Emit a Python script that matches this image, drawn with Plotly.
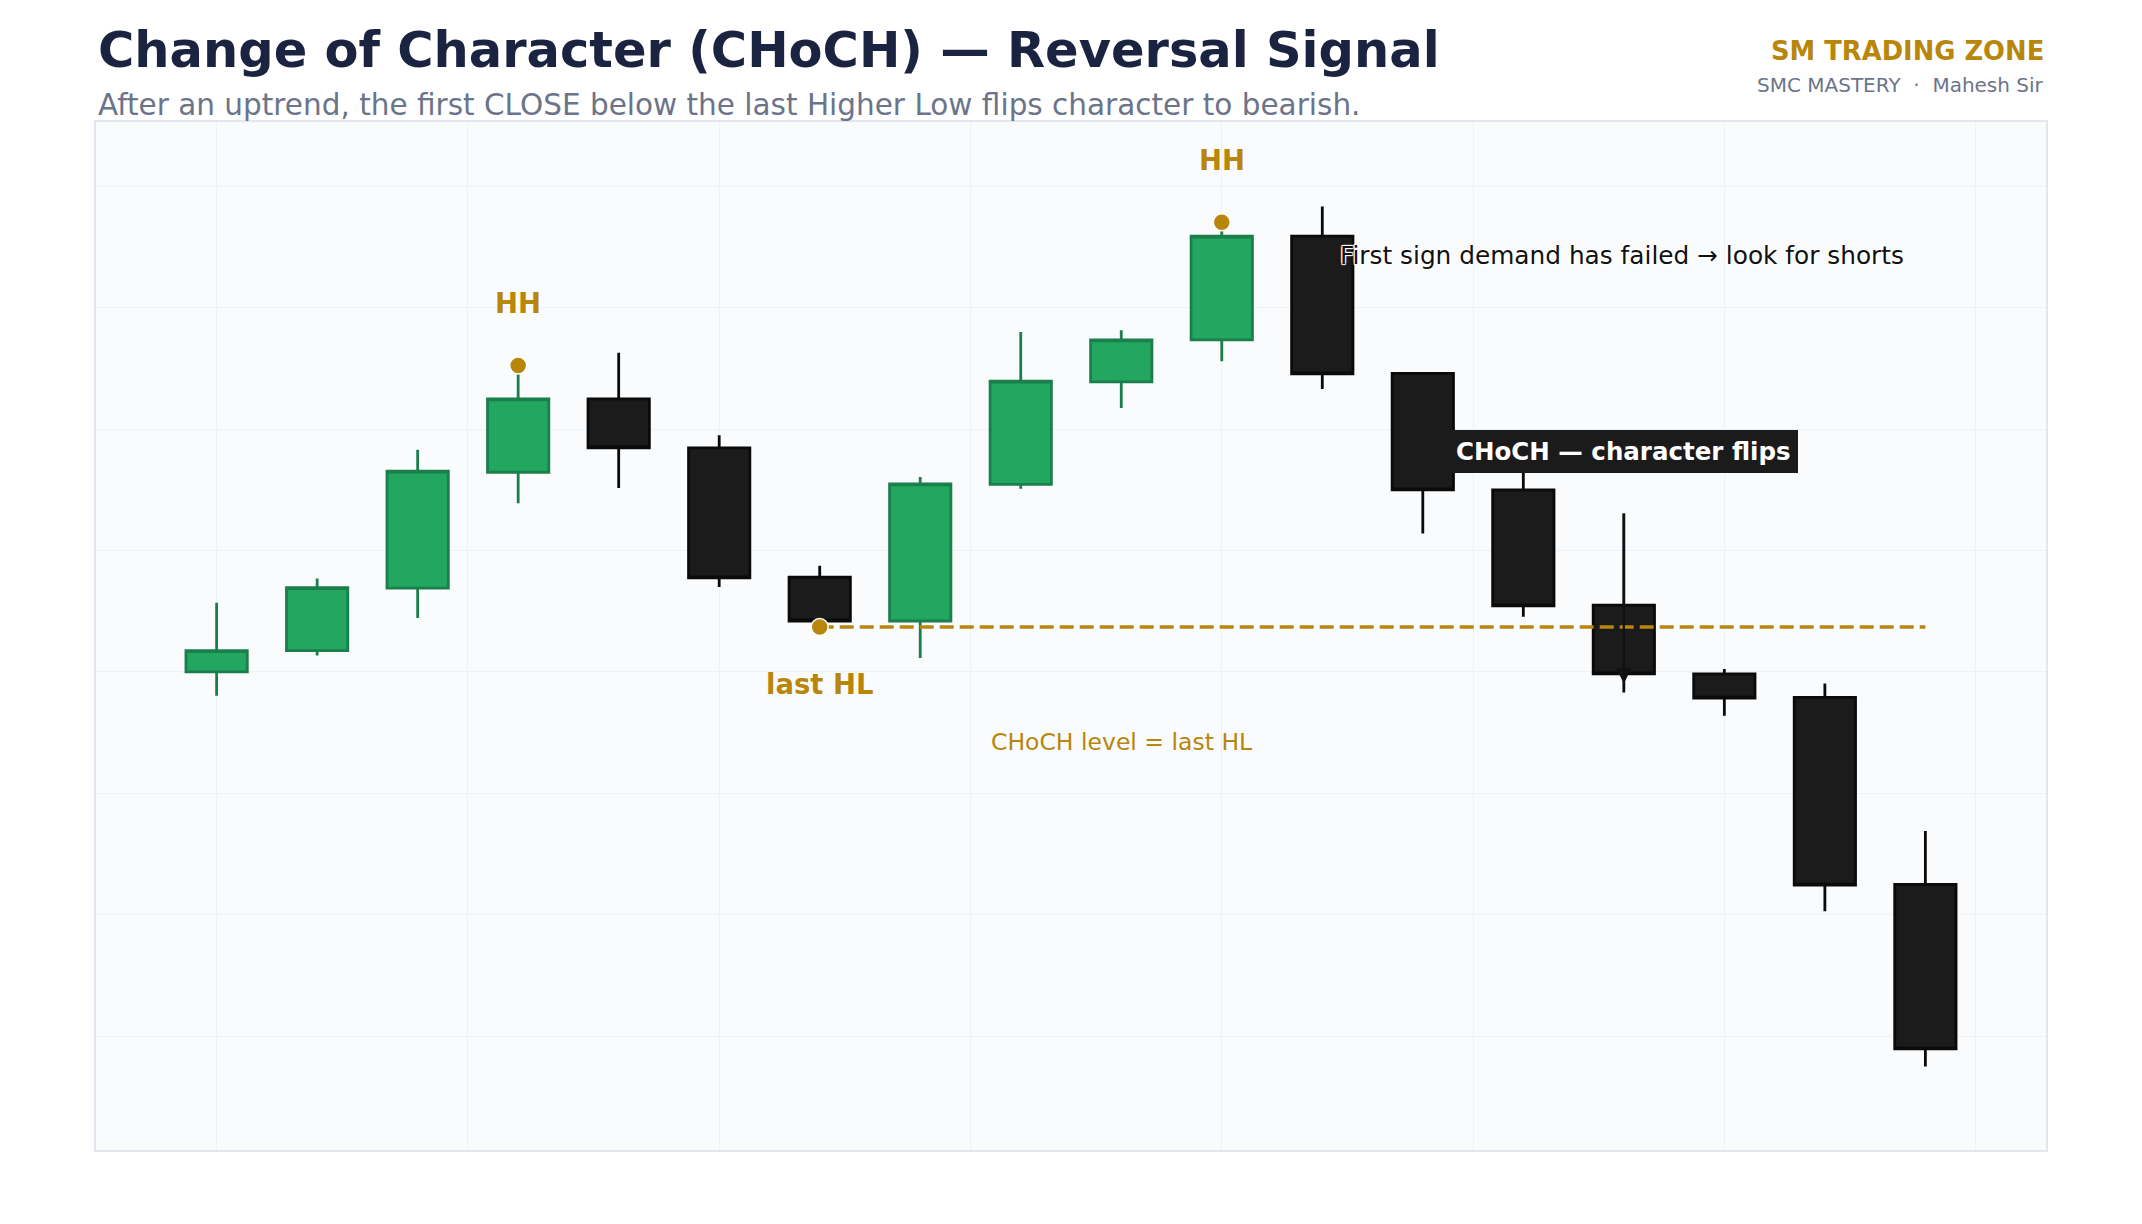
import plotly.graph_objects as go

# ---------------- data ----------------
candle_idx = list(range(18))
opens  = [100.00, 100.35, 101.38, 103.29, 104.50, 103.69, 101.56, 100.84, 103.09,
          104.78, 105.47, 107.18, 104.92, 103.00, 101.10, 99.97, 99.58, 96.50]
highs  = [101.14, 101.54, 103.66, 105.05, 105.26, 103.90, 101.75, 103.21, 105.60,
          105.63, 107.41, 107.67, 104.94, 103.60, 102.61, 100.05, 99.81, 97.38]
lows   = [99.61, 100.27, 100.89, 102.78, 103.03, 101.40, 100.74, 100.23, 103.02,
          104.35, 105.12, 104.66, 102.28, 100.91, 99.66, 99.28, 96.06, 93.50]
closes = [100.35, 101.39, 103.31, 104.50, 103.69, 101.55, 100.84, 103.10, 104.79,
          105.47, 107.18, 104.91, 103.00, 101.09, 99.97, 99.57, 96.49, 93.79]

hh_idx = [3, 10]          # higher highs
hl_idx = 6                # last higher low
choch_idx = 14            # candle that closes below the last HL
hl_level = lows[hl_idx]

title_text = "Change of Character (CHoCH) \u2014 Reversal Signal"
subtitle_text = "After an uptrend, the first CLOSE below the last Higher Low flips character to bearish."
brand_text = "SM TRADING ZONE"
brand_sub_text = "SMC MASTERY  \u00b7  Mahesh Sir"
note_text = "First sign demand has failed \u2192 look for shorts"
choch_label = "CHoCH \u2014 character flips"
level_label = "CHoCH level = last HL"

GOLD = "#B8860B"
FONT = "DejaVu Sans"

fig = go.Figure()

fig.add_trace(go.Candlestick(
    x=candle_idx, open=opens, high=highs, low=lows, close=closes,
    increasing=dict(fillcolor="#22A660", line=dict(color="#1B7F4C", width=2.8)),
    decreasing=dict(fillcolor="#1B1B1B", line=dict(color="#0A0A0A", width=2.8)),
    whiskerwidth=0, showlegend=False, hoverinfo="skip",
))

# CHoCH level dashed line
fig.add_trace(go.Scatter(
    x=[hl_idx, candle_idx[-1]], y=[hl_level, hl_level], mode="lines",
    line=dict(color=GOLD, width=3.4, dash="14px,6px"), showlegend=False, hoverinfo="skip",
))

# swing markers
fig.add_trace(go.Scatter(
    x=hh_idx + [hl_idx], y=[highs[i] for i in hh_idx] + [lows[hl_idx]], mode="markers",
    marker=dict(color=GOLD, size=17, line=dict(color="white", width=1.5)),
    showlegend=False, hoverinfo="skip",
))

ann = []
# header texts
ann.append(dict(text=f"<b>{title_text}</b>", xref="paper", yref="paper", x=0, y=1.0696,
                xanchor="left", yanchor="middle", showarrow=False,
                font=dict(family=FONT, size=49.5, color="#1A2340")))
ann.append(dict(text=subtitle_text, xref="paper", yref="paper", x=0, y=1.0163,
                xanchor="left", yanchor="middle", showarrow=False,
                font=dict(family=FONT, size=29.5, color="#6B7489")))
ann.append(dict(text=f"<b>{brand_text}</b>", xref="paper", yref="paper", x=1, y=1.069,
                xanchor="right", yanchor="middle", showarrow=False,
                font=dict(family=FONT, size=25.8, color=GOLD)))
ann.append(dict(text=brand_sub_text, xref="paper", yref="paper", x=1, y=1.0362,
                xanchor="right", yanchor="middle", showarrow=False,
                font=dict(family=FONT, size=20, color="#6B7489")))

# swing labels
for i in hh_idx:
    ann.append(dict(text="<b>HH</b>", x=i, y=highs[i] + 1.03, showarrow=False,
                    xanchor="center", yanchor="middle",
                    font=dict(family=FONT, size=27.5, color=GOLD)))
ann.append(dict(text="<b>last HL</b>", x=hl_idx, y=lows[hl_idx] - 0.94, showarrow=False,
                xanchor="center", yanchor="middle",
                font=dict(family=FONT, size=27.5, color=GOLD)))
ann.append(dict(text=level_label, x=9, y=98.85, showarrow=False,
                xanchor="center", yanchor="middle",
                font=dict(family=FONT, size=23.5, color=GOLD)))

# note
ann.append(dict(text=note_text, x=11.16, y=106.86, showarrow=False,
                xanchor="left", yanchor="middle",
                font=dict(family=FONT, size=24.8, color="#111111", shadow="auto")))

# CHoCH label with arrow
ann.append(dict(text=f"<b>{choch_label}</b>", x=choch_idx, y=lows[choch_idx],
                showarrow=True, ax=0, ay=-241, arrowhead=2, arrowsize=1.4, arrowwidth=2.2,
                arrowcolor="#111111", standoff=9, startstandoff=41,
                bgcolor="#1B1B1B", borderpad=6, bordercolor="#1B1B1B", borderwidth=1,
                font=dict(family=FONT, size=24.5, color="white")))

axis_style = dict(showticklabels=False, ticks="", gridcolor="#EEF1F5", gridwidth=1,
                  showline=True, linecolor="#E2E6EE", linewidth=2, mirror=True,
                  zeroline=False, fixedrange=True)

fig.update_layout(
    width=2142, height=1224,
    margin=dict(l=96, r=96, t=122, b=74),
    paper_bgcolor="white", plot_bgcolor="#F9FBFD",
    boxgap=0.39, boxgroupgap=0,
    annotations=ann, showlegend=False,
    font=dict(family=FONT),
)
fig.update_xaxes(range=[-1.2, 18.2], tick0=0, dtick=2.5, rangeslider=dict(visible=False),
                 **axis_style)
fig.update_yaxes(range=[92.125, 109.06], tick0=0, dtick=2, **axis_style)

fig.write_html("out.html")
